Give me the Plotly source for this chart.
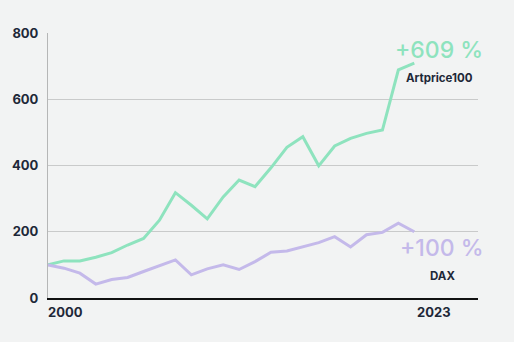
import plotly.graph_objects as go

years = list(range(2000, 2024))
artprice100 = [100, 112, 112, 123, 137, 160, 180, 235, 318, 280, 239, 305,
               356, 336, 393, 455, 487, 399, 459, 482, 497, 507, 689, 709]
dax = [100, 90, 75, 42, 56, 62, 80, 98, 115, 70, 88, 100,
       86, 110, 138, 142, 155, 167, 185, 154, 191, 198, 226, 200]
y_ticks = [0, 200, 400, 600, 800]
x_labels = ["2000", "2023"]

GREEN = "#8ee3be"
PURPLE = "#c4b9ea"
DARK = "#1e2838"
BG = "#f2f3f3"
FONT = "Inter"

fig = go.Figure()
fig.add_trace(go.Scatter(x=years, y=artprice100, mode="lines",
                         line=dict(color=GREEN, width=3), hoverinfo="skip"))
fig.add_trace(go.Scatter(x=years, y=dax, mode="lines",
                         line=dict(color=PURPLE, width=3), hoverinfo="skip"))

fig.update_layout(
    width=514, height=342,
    margin=dict(l=46, r=36, t=33, b=44),
    paper_bgcolor=BG, plot_bgcolor=BG,
    showlegend=False,
    font=dict(family=FONT, color=DARK),
    xaxis=dict(range=[2000, 2027], showgrid=False, zeroline=False,
               showticklabels=False, ticks="",
               showline=True, linecolor="#111111", linewidth=1.5),
    yaxis=dict(range=[0, 800], tickvals=y_ticks, showgrid=True,
               gridcolor="#c9caca", gridwidth=1, zeroline=False,
               showline=True, linecolor="#b5b6b6", linewidth=1,
               ticks="", ticklabelstandoff=6,
               tickfont=dict(family=FONT, size=13, color=DARK, weight="bold")),
)

fig.add_annotation(x=2000, y=0, yref="y", text=x_labels[0], showarrow=False,
                   xanchor="left", yanchor="top", yshift=-4, xshift=-2,
                   font=dict(family=FONT, size=13, color=DARK, weight="bold"))
fig.add_annotation(x=2024.25, y=0, yref="y", text=x_labels[1], showarrow=False,
                   xanchor="center", yanchor="top", yshift=-4,
                   font=dict(family=FONT, size=13, color=DARK, weight="bold"))

fig.add_annotation(x=2024.56, y=749, text="+609 %", showarrow=False,
                   xanchor="center", yanchor="middle",
                   font=dict(family=FONT, size=23, color=GREEN, weight=500))
fig.add_annotation(x=2024.6, y=664, text="Artprice100", showarrow=False,
                   xanchor="center", yanchor="middle",
                   font=dict(family=FONT, size=11.5, color=DARK, weight="bold"))
fig.add_annotation(x=2024.75, y=151, text="+100 %", showarrow=False,
                   xanchor="center", yanchor="middle",
                   font=dict(family=FONT, size=23, color=PURPLE, weight=500))
fig.add_annotation(x=2024.75, y=66, text="DAX", showarrow=False,
                   xanchor="center", yanchor="middle",
                   font=dict(family=FONT, size=11.5, color=DARK, weight="bold"))

fig.write_html("out.html")
